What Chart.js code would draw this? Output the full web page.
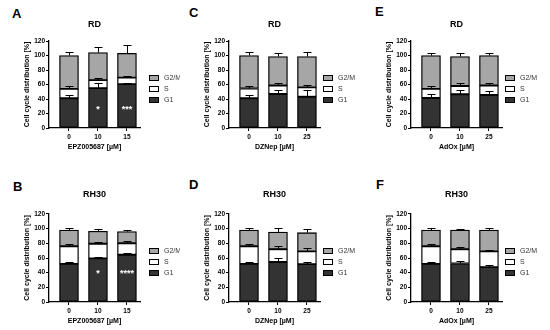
<!DOCTYPE html>
<html>
<head>
<meta charset="utf-8">
<script src="https://cdn.jsdelivr.net/npm/chart.js@4.4.0/dist/chart.umd.min.js"></script>
<style>
body { margin: 0; background: #fff; }
#fig { position: relative; width: 550px; height: 330px; overflow: hidden; }
#fig canvas { position: absolute; }
.letter { position: absolute; font: bold 13px "Liberation Sans", Arial, sans-serif; line-height: 13px; color: #000; }
</style>
</head>
<body>
<div id="fig"></div>
<script>
// doses (tick labels)
const dosesEPZ = ['0', '10', '15'];
const dosesDZ = ['0', '10', '25'];
const dosesAdOx = ['0', '10', '25'];

// A - RD, EPZ005687
const aG1 = [41, 55, 60.5];
const aS = [13, 11, 9];
const aG2M = [46, 38, 33.5];
const aErrG1 = [4, 7, 1];
const aErrS = [4.5, 3, 2.5];
const aErrG2M = [4.5, 8, 11];
const aStars = ['', '*', '***'];

// B - RH30, EPZ005687
const bG1 = [52, 59.5, 64.5];
const bS = [24, 20, 15.5];
const bG2M = [22, 17, 16];
const bErrG1 = [2, 2, 2.5];
const bErrS = [2.5, 3, 3.5];
const bErrG2M = [2.5, 2.5, 2.5];
const bStars = ['', '*', '****'];

// C - RD, DZNep
const cG1 = [41, 47, 43];
const cS = [13.5, 11.5, 13];
const cG2M = [45.5, 40, 42.5];
const cErrG1 = [5, 6, 9];
const cErrS = [4, 3.5, 3];
const cErrG2M = [4.5, 5.5, 6];

// D - RH30, DZNep
const dG1 = [52, 54.5, 51.5];
const dS = [24, 17.5, 17.5];
const dG2M = [22, 23.5, 25.5];
const dErrG1 = [2, 5.5, 3.5];
const dErrS = [2.5, 5, 4];
const dErrG2M = [2.5, 6, 4.5];

// E - RD, AdOx
const eG1 = [41.5, 46.5, 45.5];
const eS = [12.5, 11.5, 13];
const eG2M = [46, 40.5, 41.5];
const eErrG1 = [5, 6.5, 5.5];
const eErrS = [4.5, 4, 3.5];
const eErrG2M = [4, 4.5, 3];

// F - RH30, AdOx
const fG1 = [52, 52.5, 47.5];
const fS = [24, 19.5, 21.5];
const fG2M = [22, 26, 29];
const fErrG1 = [2, 3, 3.5];
const fErrS = [2.5, 3, 2];
const fErrG2M = [2.5, 1.5, 2.5];

const noStars = ['', '', ''];

const FONT = '"Liberation Sans", Arial, sans-serif';

const panels = [
    { letter: 'A', cell: 'RD', drug: 'EPZ005687', doses: dosesEPZ, g1: aG1, s: aS, g2m: aG2M, e1: aErrG1, e2: aErrS, e3: aErrG2M, stars: aStars, x: 0, y: 0, w: 180, legendX: 149, lx: 12, ly: 6.5, starLevel: 28 },
    { letter: 'B', cell: 'RH30', drug: 'EPZ005687', doses: dosesEPZ, g1: bG1, s: bS, g2m: bG2M, e1: bErrG1, e2: bErrS, e3: bErrG2M, stars: bStars, x: 0, y: 165, w: 180, legendX: 149, lx: 13, ly: 180, starLevel: 42 },
    { letter: 'C', cell: 'RD', drug: 'DZNep', doses: dosesDZ, g1: cG1, s: cS, g2m: cG2M, e1: cErrG1, e2: cErrS, e3: cErrG2M, stars: noStars, x: 180, y: 0, w: 180, legendX: 143, lx: 189, ly: 5.5, starLevel: 28 },
    { letter: 'D', cell: 'RH30', drug: 'DZNep', doses: dosesDZ, g1: dG1, s: dS, g2m: dG2M, e1: dErrG1, e2: dErrS, e3: dErrG2M, stars: noStars, x: 180, y: 165, w: 180, legendX: 143, lx: 189, ly: 177.5, starLevel: 42 },
    { letter: 'E', cell: 'RD', drug: 'AdOx', doses: dosesAdOx, g1: eG1, s: eS, g2m: eG2M, e1: eErrG1, e2: eErrS, e3: eErrG2M, stars: noStars, x: 362, y: 0, w: 188, legendX: 143, lx: 375, ly: 5, starLevel: 28 },
    { letter: 'F', cell: 'RH30', drug: 'AdOx', doses: dosesAdOx, g1: fG1, s: fS, g2m: fG2M, e1: fErrG1, e2: fErrS, e3: fErrG2M, stars: noStars, x: 362, y: 165, w: 188, legendX: 143, lx: 376, ly: 177.5, starLevel: 42 },
];

// error bars, asterisks and legend
const extras = {
    id: 'extras',
    afterDatasetsDraw(chart, args, opts) {
        const ctx = chart.ctx;
        const yScale = chart.scales.y;
        const sets = chart.data.datasets;
        ctx.save();
        ctx.strokeStyle = '#000';
        ctx.lineWidth = 1;
        sets.forEach((ds, di) => {
            const meta = chart.getDatasetMeta(di);
            meta.data.forEach((bar, i) => {
                let cum = 0;
                for (let k = 0; k <= di; k++) cum += sets[k].data[i].y;
                const yErr = Math.round(yScale.getPixelForValue(cum + ds.err[i])) + 0.5;
                const x = Math.round(bar.x) + 0.5;
                ctx.beginPath();
                ctx.moveTo(x, bar.y);
                ctx.lineTo(x, yErr);
                ctx.moveTo(x - 4, yErr);
                ctx.lineTo(x + 4, yErr);
                ctx.stroke();
            });
        });
        // asterisks
        const g1Meta = chart.getDatasetMeta(0);
        ctx.fillStyle = '#fff';
        ctx.font = 'bold 9px ' + FONT;
        ctx.textAlign = 'center';
        ctx.textBaseline = 'middle';
        opts.stars.forEach((st, i) => {
            if (st) ctx.fillText(st, g1Meta.data[i].x, yScale.getPixelForValue(opts.starLevel) + 2);
        });
        ctx.restore();
    },
    afterDraw(chart, args, opts) {
        const ctx = chart.ctx;
        const top = chart.chartArea.top;
        const items = chart.data.datasets.slice().reverse();
        ctx.save();
        ctx.font = '7px ' + FONT;
        ctx.textBaseline = 'middle';
        ctx.textAlign = 'left';
        items.forEach((ds, k) => {
            const cy = Math.round(top + 37 + k * 11);
            ctx.fillStyle = ds.backgroundColor;
            ctx.fillRect(opts.legendX, cy - 3, 10, 6);
            ctx.strokeStyle = '#000';
            ctx.lineWidth = 1;
            ctx.strokeRect(opts.legendX + 0.5, cy - 2.5, 9, 5);
            ctx.fillStyle = '#333';
            ctx.fillText(ds.label, opts.legendX + 15, cy);
        });
        ctx.restore();
    }
};

const fig = document.getElementById('fig');

function makeSet(label, values, color, err) {
    return {
        label: label,
        data: values.map((v, i) => ({ x: i, y: v })),
        backgroundColor: color,
        borderColor: '#000',
        borderWidth: 1.3,
        borderSkipped: false,
        barThickness: 19,
        err: err
    };
}

panels.forEach(p => {
    const letter = document.createElement('div');
    letter.className = 'letter';
    letter.style.left = p.lx + 'px';
    letter.style.top = p.ly + 'px';
    letter.textContent = p.letter;
    fig.appendChild(letter);

    const canvas = document.createElement('canvas');
    canvas.width = p.w;
    canvas.height = 165;
    canvas.style.left = p.x + 'px';
    canvas.style.top = p.y + 'px';
    fig.appendChild(canvas);

    const topRow = p.y === 0;
    const areaTop = topRow ? 41 : 49;
    const areaBottom = topRow ? 128 : 137;
    const titleCenter = topRow ? 25 : 29.3;

    new Chart(canvas.getContext('2d'), {
        type: 'bar',
        data: {
            datasets: [
                makeSet('G1', p.g1, '#333333', p.e1),
                makeSet('S', p.s, '#ffffff', p.e2),
                makeSet('G2/M', p.g2m, '#a6a6a6', p.e3)
            ]
        },
        options: {
            responsive: false,
            animation: false,
            layout: {
                padding: { left: 23, top: 0, right: p.w - 140, bottom: 165 - areaBottom - 23 }
            },
            plugins: {
                legend: { display: false },
                tooltip: { enabled: false },
                title: {
                    display: true,
                    text: p.cell,
                    fullSize: false,
                    color: '#000',
                    font: { family: FONT, size: 9, weight: 'bold' },
                    padding: { top: titleCenter - 5.4, bottom: areaTop - titleCenter - 5.4 }
                },
                extras: { legendX: p.legendX, stars: p.stars, starLevel: p.starLevel }
            },
            scales: {
                x: {
                    type: 'linear',
                    stacked: true,
                    offset: false,
                    min: -0.69,
                    max: 2.45,
                    afterBuildTicks: s => { s.ticks = p.doses.map((d, i) => ({ value: i })); },
                    afterFit: s => { s.height = 23; },
                    ticks: {
                        callback: v => p.doses[v],
                        color: '#000',
                        font: { family: FONT, size: 6.5, weight: 'bold' },
                        padding: 2,
                        maxRotation: 0,
                        autoSkip: false
                    },
                    grid: { offset: false, drawOnChartArea: false, drawTicks: true, tickLength: 3, color: '#000', lineWidth: 1 },
                    border: { display: true, color: '#000', width: 1.3 },
                    title: {
                        display: true,
                        text: p.drug + ' [µM]',
                        color: '#000',
                        font: { family: FONT, size: 7, weight: 'bold' },
                        padding: 0
                    }
                },
                y: {
                    stacked: true,
                    min: 0,
                    max: 120,
                    afterFit: s => { s.width = 26; },
                    ticks: {
                        stepSize: 20,
                        color: '#000',
                        font: { family: FONT, size: 6.5, weight: 'bold' },
                        padding: 1
                    },
                    grid: { drawOnChartArea: false, drawTicks: true, tickLength: 3, color: '#000', lineWidth: 1 },
                    border: { display: true, color: '#000', width: 1.3 },
                    title: {
                        display: true,
                        text: 'Cell cycle distribution [%]',
                        color: '#000',
                        font: { family: FONT, size: 7, weight: 'bold' },
                        padding: 0
                    }
                }
            }
        },
        plugins: [extras]
    });
});
</script>
</body>
</html>
